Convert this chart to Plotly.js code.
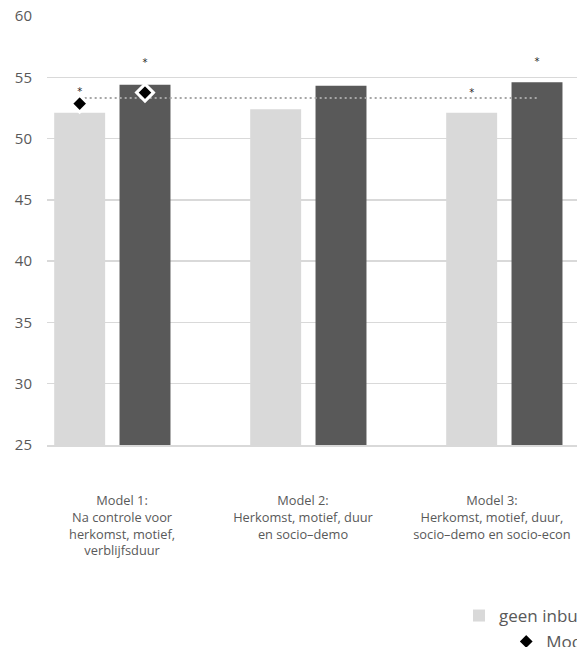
<!DOCTYPE html>
<html>
<head>
<meta charset="utf-8">
<script src="https://cdn.plot.ly/plotly-3.0.1.min.js"></script>
<style>
  html, body { margin: 0; padding: 0; overflow: hidden; background: #ffffff; }
  #chart { width: 1000px; height: 647px; }
</style>
</head>
<body>
<div id="chart"></div>
<script>
// ---- data ----
var categories = [0, 1, 2];
var tickLabels = [
  'Model 1:<br>Na controle voor<br>herkomst, motief,<br>verblijfsduur',
  'Model 2:<br>Herkomst, motief, duur<br>en socio–demo',
  'Model 3:<br>Herkomst, motief, duur,<br>socio–demo en socio-econ'
];
var seriesNames = ['geen inburgeringstraject', 'wel inburgeringstraject', 'Model 0: zonder controles'];
var geenValues = [52.1, 52.4, 52.1];
var welValues = [54.4, 54.3, 54.6];
var model0Values = [52.85, 53.75];          // diamonds, Model 1 only
var averageValue = 53.3;                    // dotted reference line
var starValues = [53.75, 56.1, 53.7, 56.2]; // significance asterisks (M1 geen, M1 wel, M3 geen, M3 wel)

// ---- layout constants ----
var slot = 1 / 3;
var barW = 0.26;
var labelPos = [-0.117, 0.806, 1.77];

var FONT = '"Open Sans", Lato, sans-serif';
var GREY_TXT = '#595959';

var traces = [
  {
    type: 'bar', name: seriesNames[0], x: categories, y: geenValues,
    width: barW, offset: -slot - barW / 2,
    marker: { color: '#d9d9d9' }, legend: 'legend', hoverinfo: 'y'
  },
  {
    type: 'bar', name: seriesNames[1], x: categories, y: welValues,
    width: barW, offset: -barW / 2,
    marker: { color: '#595959' }, legend: 'legend', hoverinfo: 'y'
  },
  {
    type: 'scatter', mode: 'lines', name: 'gemiddelde',
    x: [categories[0] - slot, categories[2]], y: [averageValue, averageValue],
    line: { color: '#a6a6a6', width: 2, dash: '2px,3px' }, showlegend: false
  },
  {
    type: 'scatter', mode: 'markers', name: seriesNames[2],
    x: [categories[0] - slot, categories[0]], y: model0Values,
    marker: { symbol: 'diamond', size: 13, color: '#000000', line: { color: '#ffffff', width: 3 } },
    legend: 'legend2'
  },
  {
    type: 'scatter', mode: 'text', name: 'sig',
    x: [categories[0] - slot, categories[0], categories[2] - slot, categories[2]],
    y: starValues, text: ['*', '*', '*', '*'], textposition: 'middle center',
    textfont: { family: '"DejaVu Sans", sans-serif', size: 10, color: '#262626' },
    showlegend: false, hoverinfo: 'skip'
  }
];

var layout = {
  width: 1000, height: 647,
  margin: { l: 47, r: 365, t: 16, b: 202, autoexpand: false },
  paper_bgcolor: '#ffffff', plot_bgcolor: '#ffffff',
  font: { family: FONT, color: GREY_TXT },
  barmode: 'overlay',
  xaxis: {
    type: 'linear', range: [-0.5, 2.5],
    tickvals: labelPos, ticktext: tickLabels,
    tickfont: { family: FONT, size: 12.8, color: GREY_TXT },
    showgrid: false, zeroline: false,
    showline: true, linecolor: '#d9d9d9', linewidth: 2,
    ticks: '', ticklabelstandoff: 43, fixedrange: true, automargin: false
  },
  yaxis: {
    range: [25, 60], dtick: 5, tick0: 25,
    showgrid: true, gridcolor: '#d9d9d9', gridwidth: 1.5,
    zeroline: false, showline: false, ticks: '',
    tickfont: { family: FONT, size: 15, color: GREY_TXT },
    ticklabelstandoff: 14, fixedrange: true, automargin: false
  },
  showlegend: true,
  legend: {
    orientation: 'h', x: 0.7007, xanchor: 'left', y: -0.3566, yanchor: 'top',
    font: { family: FONT, size: 17, color: GREY_TXT }, bgcolor: 'rgba(0,0,0,0)'
  },
  legend2: {
    orientation: 'h', x: 0.781, xanchor: 'left', y: -0.417, yanchor: 'top',
    font: { family: FONT, size: 17, color: GREY_TXT }, bgcolor: 'rgba(0,0,0,0)'
  }
};

Plotly.newPlot('chart', traces, layout, { displayModeBar: false, staticPlot: true });
</script>
</body>
</html>
